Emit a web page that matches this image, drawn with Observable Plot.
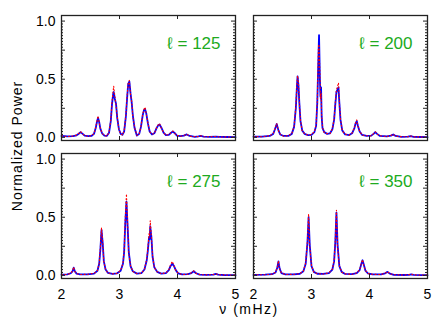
<!DOCTYPE html>
<html><head><meta charset="utf-8">
<script src="https://cdn.jsdelivr.net/npm/d3@7"></script>
<script src="https://cdn.jsdelivr.net/npm/@observablehq/plot@0.6"></script>
<style>
body{margin:0;background:#fff;}
#wrap{position:relative;width:436px;height:320px;font-family:"Liberation Sans",Arial,sans-serif;color:#000;}
#chart{position:absolute;left:0;top:0;}
#ytitle{position:absolute;left:17px;top:146px;transform:translate(-50%,-50%) rotate(-90deg);font-size:14px;letter-spacing:1px;white-space:nowrap;}
#xtitle{position:absolute;left:249px;top:301px;transform:translateX(-50%);font-size:14px;letter-spacing:1.5px;white-space:nowrap;}
</style></head><body>
<div id="wrap"><div id="chart"></div><div id="ytitle">Normalized Power</div><div id="xtitle">ν (mHz)</div></div>
<script>
// Degree labels of the four panels
const ells = [125, 200, 275, 350];

// ℓ = 125
const nu125 = [2.00,2.10,2.20,2.26,2.30,2.33,2.36,2.40,2.46,2.52,2.56,2.59,2.61,2.63,2.65,2.67,2.70,2.74,2.78,2.82,2.85,2.87,2.89,2.90,2.92,2.94,2.96,2.99,3.02,3.05,3.08,3.11,3.13,3.15,3.17,3.19,3.21,3.23,3.26,3.30,3.34,3.37,3.40,3.42,3.44,3.46,3.49,3.52,3.56,3.60,3.64,3.67,3.69,3.72,3.76,3.80,3.85,3.89,3.92,3.95,3.99,4.05,4.11,4.16,4.21,4.30,4.36,4.40,4.45,4.55,4.66,4.72,4.85,5.00];
const blue125 = [0.012,0.008,0.010,0.018,0.032,0.045,0.032,0.015,0.010,0.014,0.030,0.080,0.130,0.170,0.130,0.075,0.035,0.015,0.012,0.040,0.140,0.280,0.370,0.390,0.330,0.290,0.170,0.070,0.030,0.022,0.050,0.180,0.330,0.460,0.480,0.380,0.300,0.190,0.080,0.015,0.030,0.090,0.190,0.230,0.245,0.210,0.120,0.050,0.025,0.035,0.080,0.105,0.110,0.085,0.040,0.020,0.022,0.040,0.050,0.038,0.015,0.010,0.015,0.025,0.012,0.005,0.008,0.012,0.006,0.004,0.007,0.004,0.003,0.002];
const red125 = [0.014,0.006,0.012,0.020,0.035,0.050,0.030,0.016,0.008,0.016,0.032,0.085,0.140,0.185,0.125,0.080,0.032,0.018,0.010,0.045,0.150,0.300,0.400,0.440,0.350,0.280,0.180,0.065,0.032,0.020,0.055,0.190,0.350,0.470,0.490,0.370,0.310,0.180,0.085,0.018,0.028,0.095,0.200,0.240,0.260,0.205,0.125,0.048,0.028,0.032,0.085,0.110,0.120,0.080,0.042,0.018,0.024,0.042,0.055,0.035,0.016,0.008,0.017,0.027,0.010,0.006,0.007,0.014,0.005,0.005,0.008,0.003,0.004,0.002];

// ℓ = 200
const nu200 = [2.00,2.15,2.28,2.34,2.37,2.40,2.43,2.46,2.52,2.60,2.66,2.70,2.73,2.75,2.76,2.775,2.79,2.81,2.84,2.88,2.94,3.00,3.05,3.08,3.10,3.12,3.13,3.145,3.155,3.165,3.175,3.19,3.22,3.27,3.32,3.36,3.39,3.41,3.43,3.45,3.465,3.48,3.50,3.53,3.58,3.65,3.70,3.74,3.76,3.78,3.80,3.83,3.87,3.95,4.03,4.07,4.10,4.13,4.18,4.30,4.37,4.41,4.45,4.55,4.66,4.71,4.76,4.88,5.00];
const blue200 = [0.006,0.006,0.012,0.030,0.070,0.115,0.060,0.025,0.012,0.012,0.030,0.090,0.250,0.450,0.525,0.450,0.300,0.140,0.060,0.030,0.020,0.022,0.045,0.100,0.300,0.700,0.880,0.500,0.350,0.430,0.180,0.080,0.045,0.030,0.035,0.070,0.150,0.280,0.390,0.410,0.430,0.300,0.150,0.060,0.025,0.020,0.035,0.080,0.120,0.140,0.100,0.050,0.022,0.012,0.015,0.030,0.045,0.030,0.012,0.008,0.015,0.025,0.012,0.005,0.006,0.010,0.005,0.003,0.002];
const red200 = [0.008,0.005,0.014,0.032,0.075,0.120,0.058,0.028,0.010,0.014,0.032,0.095,0.270,0.470,0.530,0.480,0.310,0.150,0.055,0.032,0.018,0.025,0.048,0.110,0.320,0.780,0.800,0.550,0.330,0.380,0.190,0.085,0.042,0.032,0.033,0.075,0.160,0.300,0.410,0.440,0.470,0.310,0.160,0.058,0.028,0.018,0.038,0.085,0.125,0.150,0.095,0.055,0.020,0.014,0.013,0.032,0.048,0.028,0.014,0.007,0.017,0.027,0.010,0.006,0.005,0.012,0.004,0.004,0.002];

// ℓ = 275
const nu275 = [2.00,2.10,2.16,2.19,2.21,2.23,2.26,2.32,2.45,2.56,2.62,2.65,2.67,2.69,2.71,2.73,2.76,2.80,2.88,2.96,3.02,3.06,3.08,3.10,3.12,3.14,3.16,3.19,3.23,3.30,3.38,3.43,3.47,3.49,3.51,3.52,3.53,3.55,3.57,3.60,3.65,3.72,3.80,3.85,3.88,3.91,3.94,3.97,4.01,4.08,4.18,4.24,4.28,4.32,4.38,4.50,4.62,4.66,4.70,4.80,5.00];
const blue275 = [0.006,0.008,0.018,0.035,0.066,0.035,0.015,0.008,0.008,0.015,0.040,0.100,0.220,0.390,0.280,0.120,0.050,0.022,0.012,0.018,0.040,0.100,0.200,0.450,0.634,0.420,0.200,0.080,0.035,0.015,0.020,0.050,0.130,0.220,0.330,0.310,0.420,0.330,0.160,0.070,0.030,0.015,0.020,0.045,0.080,0.100,0.080,0.045,0.018,0.008,0.010,0.020,0.035,0.018,0.006,0.004,0.006,0.012,0.006,0.003,0.002];
const red275 = [0.007,0.007,0.020,0.038,0.072,0.033,0.016,0.007,0.009,0.017,0.042,0.105,0.240,0.410,0.290,0.115,0.052,0.020,0.013,0.017,0.043,0.105,0.215,0.500,0.700,0.440,0.190,0.085,0.033,0.016,0.019,0.053,0.140,0.240,0.360,0.340,0.470,0.340,0.170,0.068,0.032,0.014,0.022,0.048,0.090,0.120,0.085,0.043,0.020,0.007,0.011,0.022,0.038,0.017,0.007,0.004,0.007,0.014,0.005,0.004,0.002];

// ℓ = 350
const nu350 = [2.00,2.20,2.32,2.38,2.41,2.43,2.45,2.48,2.55,2.70,2.80,2.86,2.90,2.93,2.95,2.97,3.00,3.04,3.10,3.20,3.30,3.36,3.39,3.41,3.43,3.45,3.48,3.52,3.58,3.70,3.78,3.83,3.86,3.88,3.90,3.93,3.97,4.05,4.20,4.27,4.31,4.35,4.42,4.60,4.68,4.72,4.76,4.88,5.00];
const blue350 = [0.004,0.006,0.010,0.025,0.065,0.120,0.060,0.020,0.008,0.008,0.014,0.035,0.100,0.280,0.500,0.260,0.080,0.030,0.014,0.012,0.020,0.050,0.120,0.280,0.540,0.260,0.080,0.030,0.012,0.010,0.020,0.045,0.100,0.130,0.095,0.040,0.018,0.008,0.008,0.018,0.030,0.015,0.005,0.003,0.005,0.009,0.004,0.002,0.002];
const red350 = [0.005,0.005,0.011,0.027,0.070,0.125,0.058,0.022,0.007,0.009,0.015,0.037,0.110,0.300,0.530,0.250,0.085,0.028,0.015,0.011,0.022,0.053,0.130,0.300,0.560,0.250,0.085,0.028,0.013,0.009,0.022,0.048,0.105,0.135,0.090,0.042,0.017,0.009,0.007,0.020,0.032,0.014,0.006,0.003,0.006,0.010,0.004,0.003,0.002];

// Axis ticks
const xTicks = [2, 3, 4, 5];
const yLabels = [0, 0.5, 1.0];
const yMajor = [0, 0.25, 0.5, 0.75, 1.0];
const yMinor = d3.range(0, 41).map(i => +(i * 0.025).toFixed(3)).filter(v => !yMajor.includes(v));

const panels = [
  {ell: ells[0], col: 0, row: 0, nu: nu125, blue: blue125, red: red125},
  {ell: ells[1], col: 1, row: 0, nu: nu200, blue: blue200, red: red200},
  {ell: ells[2], col: 0, row: 1, nu: nu275, blue: blue275, red: red275},
  {ell: ells[3], col: 1, row: 1, nu: nu350, blue: blue350, red: red350}
];
const rows = panels.flatMap(p => p.nu.map((v, i) => ({ell: p.ell, col: p.col, row: p.row, nu: v, blue: p.blue[i], red: p.red[i]})));

const PW = 174, PH = 125;
const axisColor = "#222";

const chart = Plot.plot({
  width: 436, height: 320,
  marginLeft: 61, marginRight: 9, marginTop: 15, marginBottom: 42,
  facet: {data: rows, x: "col", y: "row"},
  fx: {paddingInner: 18 / 192, paddingOuter: 0, axis: null},
  fy: {paddingInner: 13 / 138, paddingOuter: 0, axis: null},
  x: {domain: [2, 5], ticks: xTicks, tickSize: 0, tickPadding: 11, tickFormat: d => String(d), label: null},
  y: {domain: [-0.027, 1.048], ticks: yLabels, tickSize: 0, tickPadding: 6, tickFormat: d3.format(".1f"), label: null},
  style: {fontFamily: "'Liberation Sans', Arial, sans-serif", fontSize: "14px", color: "#000", background: "#fff", overflow: "visible"},
  marks: [
    Plot.line(rows, {x: "nu", y: "blue", stroke: "#0000ff", strokeWidth: 1.8}),
    Plot.line(rows, {x: "nu", y: "red", stroke: "#ff0000", strokeWidth: 1.1, strokeDasharray: "1,2.5"}),
    Plot.tickY(yMinor, {y: d => d, insetRight: PW - 2, stroke: axisColor}),
    Plot.tickY(yMinor, {y: d => d, insetLeft: PW - 2, stroke: axisColor}),
    Plot.tickY(yMajor, {y: d => d, insetRight: PW - 4, stroke: axisColor}),
    Plot.tickY(yMajor, {y: d => d, insetLeft: PW - 4, stroke: axisColor}),
    Plot.tickX(xTicks, {x: d => d, insetTop: PH - 4, stroke: axisColor}),
    Plot.tickX(xTicks, {x: d => d, insetBottom: PH - 4, stroke: axisColor}),
    Plot.frame({stroke: axisColor, strokeWidth: 1.3}),
    Plot.text(rows, Plot.selectFirst({text: d => "ℓ = " + d.ell, frameAnchor: "top-right", dx: -15, dy: 28, fill: "#20aa20", fontSize: 17, textAnchor: "end", lineAnchor: "middle"}))
  ]
});
document.getElementById("chart").appendChild(chart);
</script>
</body></html>
